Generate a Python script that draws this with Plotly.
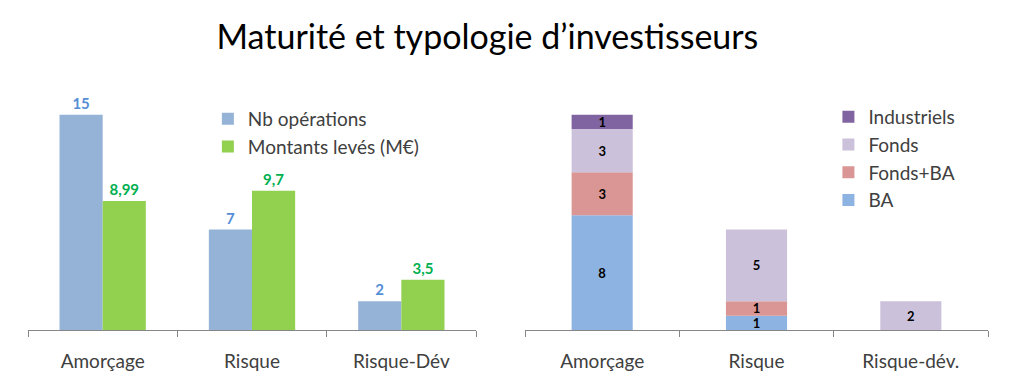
import plotly.graph_objects as go
import numpy as np

# ---- data ----
title_text = "Maturité et typologie d’investisseurs"

left_categories = ["Amorçage", "Risque", "Risque-Dév"]
nb_operations = [15, 7, 2]
montants_leves = [8.99, 9.7, 3.5]

right_categories = ["Amorçage", "Risque", "Risque-dév."]
ba = [8, 1, 0]
fonds_ba = [3, 1, 0]
fonds = [3, 5, 2]
industriels = [1, 0, 0]

def fr(v):
    return str(v).replace(".", ",")

FONT = "Lato"
fig = go.Figure()

# ---- left chart ----
W_L = 0.289
fig.add_trace(go.Bar(
    x=left_categories, y=nb_operations, name="Nb opérations",
    xaxis="x", yaxis="y", width=W_L, offset=-W_L,
    marker=dict(color="#95b3d7", line=dict(width=0)),
    text=[fr(v) for v in nb_operations], textposition="outside",
    textfont=dict(family=FONT, size=15, color="#558ed5", weight="bold"),
    cliponaxis=False, legend="legend", legendgroup="l1",
))
fig.add_trace(go.Bar(
    x=left_categories, y=montants_leves, name="Montants levés (M€)",
    xaxis="x", yaxis="y", width=W_L, offset=0,
    marker=dict(color="#92d050", line=dict(width=0)),
    text=[fr(v) for v in montants_leves], textposition="outside",
    textfont=dict(family=FONT, size=15, color="#00b050", weight="bold"),
    cliponaxis=False, legend="legend", legendgroup="l2",
))

# ---- right chart (stacked via computed base) ----
series = [("BA", ba, "#8db3e2"), ("Fonds+BA", fonds_ba, "#d99694"),
          ("Fonds", fonds, "#ccc1da"), ("Industriels", industriels, "#8064a2")]
base = np.zeros(len(right_categories))
W_R = 0.396
for name, vals, col in series:
    vals = np.array(vals, dtype=float)
    fig.add_trace(go.Bar(
        x=right_categories, y=vals, base=base.copy(), name=name,
        xaxis="x2", yaxis="y2", width=W_R,
        marker=dict(color=col, line=dict(width=0)),
        text=[str(int(v)) if v else "" for v in vals], textposition="inside",
        insidetextanchor="middle", textangle=0, constraintext="none",
        textfont=dict(family=FONT, size=13, color="black", weight="bold"),
        legend="legend2", legendgroup="r_" + name,
    ))
    base = base + vals

axis_common = dict(
    showline=True, linecolor="#868686", linewidth=1,
    ticks="outside", tickson="boundaries", ticklen=6, tickcolor="#868686",
    tickfont=dict(family=FONT, size=19, color="#404040"),
    ticklabelstandoff=14, showgrid=False, zeroline=False, fixedrange=True,
)
y_bottom = 59 / 389
y_top = (389 - (330 - 16 * 14.35)) / 389

fig.update_layout(
    width=1024, height=389,
    margin=dict(l=0, r=0, t=0, b=0),
    paper_bgcolor="white", plot_bgcolor="white",
    barmode="overlay",
    showlegend=True,
    title=dict(text=title_text, x=0.476, xanchor="center", y=0.905, yanchor="middle",
               font=dict(family=FONT, size=34, color="black")),
    xaxis=dict(domain=[28 / 1024, 476 / 1024], anchor="y", **axis_common),
    xaxis2=dict(domain=[525 / 1024, 988 / 1024], anchor="y2", **axis_common),
    yaxis=dict(domain=[y_bottom, y_top], range=[0, 16], visible=False, fixedrange=True),
    yaxis2=dict(domain=[y_bottom, y_top], range=[0, 16], visible=False, fixedrange=True),
    legend=dict(x=0.203, y=(389 - 100) / 389, xanchor="left", yanchor="top",
                font=dict(family=FONT, size=19, color="#404040"),
                bgcolor="rgba(0,0,0,0)", traceorder="normal", tracegroupgap=4),
    legend2=dict(x=0.809, y=(389 - 98) / 389, xanchor="left", yanchor="top",
                 font=dict(family=FONT, size=19, color="#404040"),
                 bgcolor="rgba(0,0,0,0)", traceorder="reversed", tracegroupgap=4),
)

fig.write_html("out.html", config={"displayModeBar": False},
               post_script="document.body.style.margin='0';")
